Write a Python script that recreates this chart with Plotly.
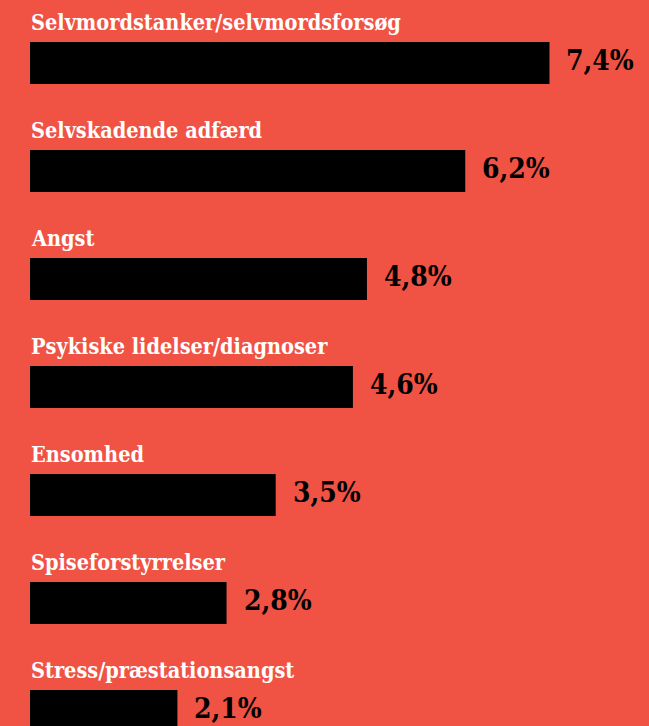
import plotly.graph_objects as go

categories = [
    "Selvmordstanker/selvmordsforsøg",
    "Selvskadende adfærd",
    "Angst",
    "Psykiske lidelser/diagnoser",
    "Ensomhed",
    "Spiseforstyrrelser",
    "Stress/præstationsangst",
]
values = [7.4, 6.2, 4.8, 4.6, 3.5, 2.8, 2.1]
value_labels = ["7,4%", "6,2%", "4,8%", "4,6%", "3,5%", "2,8%", "2,1%"]

W, H = 649, 726
BG = "#F05244"
LEFT = 30            # bars start here (px)
PX_PER_UNIT = 70.2   # horizontal scale
ROW = 108            # row pitch (px)
FIRST_CENTER = 63    # centre of first bar (px)
BAR_H = 42

centers = [FIRST_CENTER + ROW * i for i in range(len(values))]

fig = go.Figure(
    go.Bar(
        x=values,
        y=centers,
        orientation="h",
        width=BAR_H,
        marker=dict(color="#000000", line=dict(width=0)),
        hoverinfo="skip",
    )
)

annotations = []
for cat, c in zip(categories, centers):
    annotations.append(dict(
        x=0, y=c - BAR_H / 2 - 6, xref="x", yref="y",
        text=cat, showarrow=False, xanchor="left", yanchor="bottom",
        xshift=0, borderpad=0,
        font=dict(family="DejaVu Serif Condensed", size=21.5, color="white",
                  weight="bold"),
    ))
for v, lab, c in zip(values, value_labels, centers):
    annotations.append(dict(
        x=v, y=c, xref="x", yref="y",
        text=lab, showarrow=False, xanchor="left", yanchor="middle",
        xshift=16, yshift=3, borderpad=0,
        font=dict(family="DejaVu Serif Condensed", size=28, color="black",
                  weight="bold"),
    ))

fig.update_layout(
    width=W, height=H,
    margin=dict(l=0, r=0, t=0, b=0),
    paper_bgcolor=BG, plot_bgcolor=BG,
    showlegend=False,
    xaxis=dict(range=[-LEFT / PX_PER_UNIT, (W - LEFT) / PX_PER_UNIT],
               visible=False, fixedrange=True),
    yaxis=dict(range=[H, 0], visible=False, fixedrange=True),
    annotations=annotations,
)

fig.write_html("out.html")
